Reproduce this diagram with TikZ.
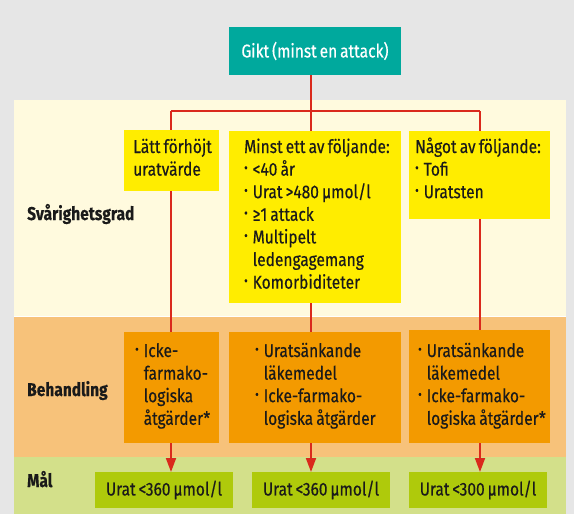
\documentclass[tikz,border=0pt]{standalone}
\usepackage{fontspec}
\usepackage{graphicx}
\setmainfont{Fira Sans}[FakeStretch=0.84,WordSpace=0.7,FakeBold=0.4]
\usetikzlibrary{positioning,arrows.meta}

\definecolor{bggray}{RGB}{230,230,230}
\definecolor{cream}{RGB}{255,250,222}
\definecolor{orangeband}{RGB}{247,194,122}
\definecolor{greenband}{RGB}{211,224,138}
\definecolor{teal}{RGB}{0,169,157}
\definecolor{ybox}{RGB}{255,237,0}
\definecolor{obox}{RGB}{243,154,0}
\definecolor{gbox}{RGB}{175,202,11}
\definecolor{redline}{RGB}{218,41,28}
\definecolor{ink}{RGB}{26,26,26}

\newcommand{\boxfont}{\fontsize{18.5}{22.6}\selectfont}
\newcommand{\pkt}{\makebox[8.5pt][l]{\raisebox{0.18em}{\scalebox{0.7}{\textbullet}}}}
\newcommand{\pind}{\hspace*{8.5pt}}

\begin{document}
\begin{tikzpicture}[x=1pt,y=-1pt,
  box/.style={anchor=north west, inner sep=0pt, outer sep=0pt},
  txt/.style={anchor=base west, inner sep=0pt, text width=180pt, font=\boxfont, text=ink,
    execute at begin node={\spaceskip=0.17em plus 0.02em\xspaceskip=0.17em\relax}},
  lbl/.style={anchor=base west, inner sep=0pt, font=\boxfont\bfseries, text=ink},
  conn/.style={redline, line width=1.8pt},
  arr/.style={conn, -{Triangle[length=14pt,width=10pt]}}]

% bakgrund
\fill[bggray] (0,0) rectangle (574,514);
\useasboundingbox (0,0) rectangle (574,514);
\fill[cream] (14,100) rectangle (566,316);
\fill[orangeband] (14,316) rectangle (566,457);
\fill[greenband] (14,457) rectangle (566,514);
\draw[white, line width=0.8pt] (14,316) -- (566,316);

% rubriker
\node[lbl] (grad) at (27,220) {Svårighetsgrad};
\node[lbl] (beh) at (27,396) {Behandling};
\node[lbl] (mal) at (27,487) {Mål};

% rutor
\node[box, fill=teal, minimum width=172pt, minimum height=48pt, font=\boxfont, text=white] (gikt) at (229,27) {Gikt (minst en attack)};

\node[box, fill=ybox, minimum width=95pt, minimum height=61pt] (lat) at (124,130) {};
\node[box, fill=ybox, minimum width=172pt, minimum height=172pt] (minst) at (229,131) {};
\node[box, fill=ybox, minimum width=141pt, minimum height=88pt] (nagot) at (409,131) {};

\node[box, fill=obox, minimum width=95pt, minimum height=111pt] (beh1) at (124,332) {};
\node[box, fill=obox, minimum width=172pt, minimum height=111pt] (beh2) at (229,332) {};
\node[box, fill=obox, minimum width=141pt, minimum height=113pt] (beh3) at (409,330) {};

\node[box, fill=gbox, minimum width=138pt, minimum height=36pt, font=\boxfont, text=ink] (mal1) at (95,472) {Urat <360 µmol/l};
\node[box, fill=gbox, minimum width=138pt, minimum height=36pt, font=\boxfont, text=ink] (mal2) at (252,472) {Urat <360 µmol/l};
\node[box, fill=gbox, minimum width=138pt, minimum height=36pt, font=\boxfont, text=ink] (mal3) at (409,472) {Urat <300 µmol/l};

% texter
\node[txt] (lattxt) at (133,153) {Lätt förhöjt\\uratvärde};
\node[txt] (minsttxt) at (244,153) {Minst ett av följande:\\\pkt <40 år\\\pkt Urat >480 µmol/l\\\pkt ≥1 attack\\\pkt Multipelt\\\pind ledengagemang\\\pkt Komorbiditeter};
\node[txt] (nagottxt) at (415,153) {Något av följande:\\\pkt Tofi\\\pkt Uratsten};
\node[txt] (beh1txt) at (135,357) {\pkt Icke-\\\pind farmako-\\\pind logiska\\\pind åtgärder*};
\node[txt] (beh2txt) at (255,357) {\pkt Uratsänkande\\\pind läkemedel\\\pkt Icke-farmako-\\\pind logiska åtgärder};
\node[txt] (beh3txt) at (418,357) {\pkt Uratsänkande\\\pind läkemedel\\\pkt Icke-farmako-\\\pind logiska åtgärder*};

% linjer
\coordinate (c1) at (171,111);
\coordinate (c2) at (311,111);
\coordinate (c3) at (480,111);
\draw[conn] (gikt.south -| c2) -- (c2);
\draw[conn] (c1) -- (c3);
\draw[conn] (c1) -- (c1 |- lat.north);
\draw[conn] (c2) -- (c2 |- minst.north);
\draw[conn] (c3) -- (c3 |- nagot.north);
\draw[conn] (c1 |- lat.south) -- (c1 |- beh1.north);
\draw[conn] (c2 |- minst.south) -- (c2 |- beh2.north);
\draw[conn] (c3 |- nagot.south) -- (c3 |- beh3.north);
\draw[arr] (c1 |- beh1.south) -- (c1 |- mal1.north);
\draw[arr] (c2 |- beh2.south) -- (c2 |- mal2.north);
\draw[arr] (c3 |- beh3.south) -- (c3 |- mal3.north);
\end{tikzpicture}
\end{document}
